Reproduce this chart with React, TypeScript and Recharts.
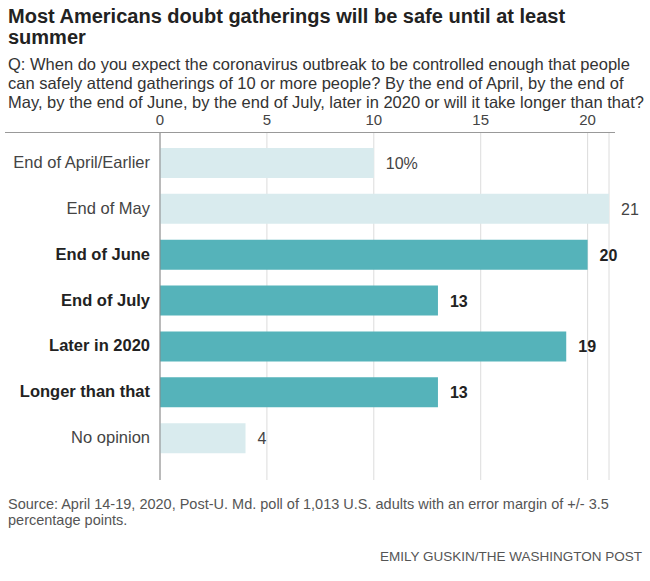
import React from "react";
import { BarChart, Bar, XAxis, YAxis, CartesianGrid, Cell, LabelList } from "recharts";

const categories = [
  "End of April/Earlier",
  "End of May",
  "End of June",
  "End of July",
  "Later in 2020",
  "Longer than that",
  "No opinion",
];
const values = [10, 21, 20, 13, 19, 13, 4];
const highlighted = [false, false, true, true, true, true, false];
const valueLabels = ["10%", "21", "20", "13", "19", "13", "4"];
const xTicks = [0, 5, 10, 15, 20];

const LIGHT = "#d9ebee";
const DARK = "#55b3ba";
const FONT = "'Liberation Sans', Arial, sans-serif";

const data = categories.map((c, i) => ({
  name: c,
  value: values[i],
  hl: highlighted[i],
  label: valueLabels[i],
}));

const YTick = (props: any) => {
  const { x, y, payload } = props;
  const i = categories.indexOf(payload.value);
  const bold = highlighted[i];
  return (
    <text
      x={x}
      y={y}
      dy={5}
      textAnchor="end"
      fontFamily={FONT}
      fontSize={16.5}
      fontWeight={bold ? 700 : 400}
      fill={bold ? "#222" : "#444"}
    >
      {payload.value}
    </text>
  );
};

const ValueLabel = (props: any) => {
  const { x, y, width, height, index } = props;
  const bold = highlighted[index];
  return (
    <text
      x={x + width + 12}
      y={y + height / 2}
      dy={6}
      textAnchor="start"
      fontFamily={FONT}
      fontSize={16}
      fontWeight={bold ? 700 : 400}
      fill={bold ? "#222" : "#444"}
    >
      {valueLabels[index]}
    </text>
  );
};

export default function App() {
  return (
    <div
      style={{
        position: "absolute",
        left: 0,
        top: 0,
        width: 650,
        height: 581,
        background: "#fff",
        fontFamily: FONT,
        color: "#222",
      }}
    >
      <div
        style={{
          position: "absolute",
          left: 8,
          top: 6,
          width: 630,
          fontSize: 20,
          fontWeight: 700,
          lineHeight: "21px",
          color: "#222",
          whiteSpace: "nowrap",
        }}
      >
        Most Americans doubt gatherings will be safe until at least
        <br />
        summer
      </div>
      <div
        style={{
          position: "absolute",
          left: 8,
          top: 55,
          width: 642,
          fontSize: 16.5,
          lineHeight: "19px",
          color: "#333",
          whiteSpace: "nowrap",
        }}
      >
        Q: When do you expect the coronavirus outbreak to be controlled enough that people
        <br />
        can safely attend gatherings of 10 or more people? By the end of April, by the end of
        <br />
        May, by the end of June, by the end of July, later in 2020 or will it take longer than that?
      </div>
      <div
        style={{
          position: "absolute",
          left: 5,
          top: 132,
          width: 610,
          height: 0,
          borderTop: "1.5px solid #999",
        }}
      />
      <div style={{ position: "absolute", left: 0, top: 100 }}>
        <BarChart
          width={650}
          height={380}
          data={data}
          layout="vertical"
          margin={{ top: 3, right: 41, bottom: 0, left: 0 }}
          barSize={30}
        >
          <CartesianGrid horizontal={false} vertical={true} stroke="#dcdcdc" />
          <XAxis
            type="number"
            orientation="top"
            domain={[0, 21]}
            ticks={xTicks}
            allowDataOverflow
            axisLine={false}
            tickLine={false}
            height={30}
            tick={{ fontFamily: FONT, fontSize: 15, fill: "#444" }}
          />
          <YAxis
            type="category"
            dataKey="name"
            width={160}
            axisLine={{ stroke: "#888" }}
            tickLine={false}
            tickMargin={4}
            padding={{ top: 7, bottom: 19 }}
            tick={<YTick />}
            interval={0}
          />
          <Bar dataKey="value" isAnimationActive={false}>
            {data.map((d, i) => (
              <Cell key={i} fill={d.hl ? DARK : LIGHT} />
            ))}
            <LabelList dataKey="label" content={<ValueLabel />} />
          </Bar>
        </BarChart>
      </div>
      <div
        style={{
          position: "absolute",
          left: 8,
          top: 496,
          width: 640,
          fontSize: 14.5,
          lineHeight: "16px",
          color: "#555",
          whiteSpace: "nowrap",
        }}
      >
        Source: April 14-19, 2020, Post-U. Md. poll of 1,013 U.S. adults with an error margin of +/- 3.5
        <br />
        percentage points.
      </div>
      <div
        style={{
          position: "absolute",
          right: 8,
          top: 549,
          fontSize: 13.5,
          color: "#555",
          whiteSpace: "nowrap",
        }}
      >
        EMILY GUSKIN/THE WASHINGTON POST
      </div>
    </div>
  );
}
